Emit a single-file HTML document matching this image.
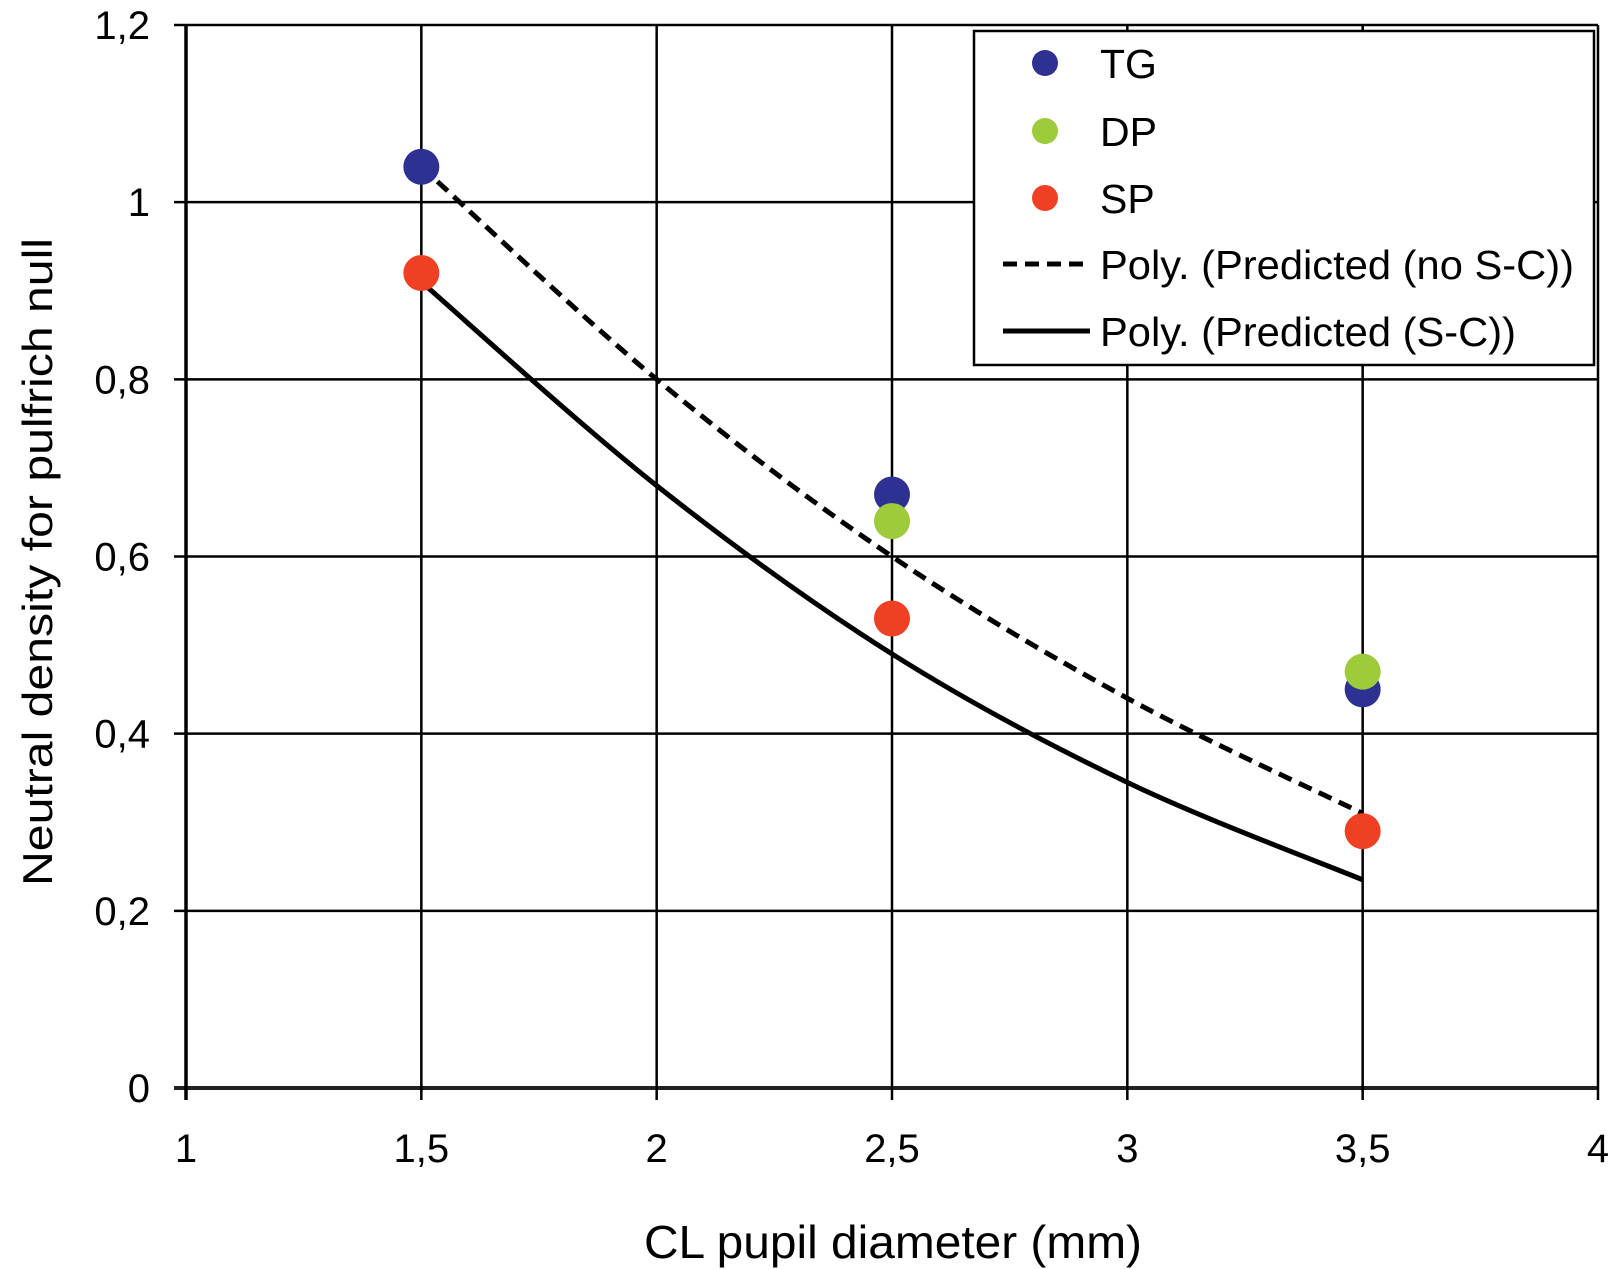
<!DOCTYPE html>
<html><head><meta charset="utf-8"><style>
body{margin:0;background:#fff;}
svg{display:block;font-family:"Liberation Sans",Arial,sans-serif;}
</style></head><body>
<svg id="chart" width="1611" height="1269" viewBox="0 0 1611 1269" xmlns="http://www.w3.org/2000/svg">
<g id="grid"></g>
<g id="curves"></g>
<g id="points"></g>
<g id="ticks"></g>
<text x="893" y="1258" font-size="46" text-anchor="middle" fill="#000" textLength="498" lengthAdjust="spacingAndGlyphs">CL pupil diameter (mm)</text>
<text transform="translate(52,562) rotate(-90)" font-size="42" text-anchor="middle" fill="#000" textLength="648" lengthAdjust="spacingAndGlyphs">Neutral density for pulfrich null</text>
<g>
<rect x="974" y="31" width="620" height="334" fill="#fff" stroke="#000" stroke-width="2.5"/>
<circle cx="1045" cy="63" r="13" fill="#2e3192"/>
<text x="1100" y="78" font-size="41">TG</text>
<circle cx="1045" cy="131" r="13" fill="#9dcb3b"/>
<text x="1100" y="146" font-size="41">DP</text>
<circle cx="1045" cy="198" r="13" fill="#ef4023"/>
<text x="1100" y="213" font-size="41">SP</text>
<line x1="1003" y1="264" x2="1090" y2="264" stroke="#000" stroke-width="5" stroke-dasharray="14,8"/>
<text x="1100" y="279" font-size="41" textLength="474" lengthAdjust="spacingAndGlyphs">Poly. (Predicted (no S-C))</text>
<line x1="1003" y1="331" x2="1090" y2="331" stroke="#000" stroke-width="5"/>
<text x="1100" y="346" font-size="41" textLength="416" lengthAdjust="spacingAndGlyphs">Poly. (Predicted (S-C))</text>
</g>
</svg>
<script>
const xTicks=[1,1.5,2,2.5,3,3.5,4];
const xTickLabels=["1","1,5","2","2,5","3","3,5","4"];
const yTicks=[0,0.2,0.4,0.6,0.8,1,1.2];
const yTickLabels=["0","0,2","0,4","0,6","0,8","1","1,2"];
const tgX=[1.5,2.5,3.5];
const tgY=[1.04,0.67,0.45];
const dpX=[2.5,3.5];
const dpY=[0.64,0.47];
const spX=[1.5,2.5,3.5];
const spY=[0.92,0.53,0.29];
const curveX=[1.5,2,2.5,3,3.5];
const noScY=[1.04,0.80,0.60,0.44,0.31];
const scY=[0.91,0.68,0.49,0.345,0.235];

const NS="http://www.w3.org/2000/svg";
function sx(v){return 186+(v-1)*(1598-186)/3;}
function sy(v){return 1088-v*(1088-25)/1.2;}
function mk(tag,attrs,parent){const e=document.createElementNS(NS,tag);for(const k in attrs)e.setAttribute(k,attrs[k]);parent.appendChild(e);return e;}
const grid=document.getElementById('grid'),ticks=document.getElementById('ticks');
yTicks.forEach((v,i)=>{
  const l=mk('line',{x1:174,x2:1598,y1:sy(v),y2:sy(v),stroke:i==0?'#222':'#000','stroke-width':i==0?4:2.5},grid);
  
  
  const t=mk('text',{x:150,y:sy(v)+14,'font-size':40,'text-anchor':'end'},ticks);
  
  
  t.textContent=yTickLabels[i];
});
xTicks.forEach((v,i)=>{
  const l=mk('line',{x1:sx(v),x2:sx(v),y1:25,y2:1100,stroke:'#000','stroke-width':i==0?3.5:2.5},grid);
  
  
  const t=mk('text',{x:sx(v),y:1162,'font-size':40,'text-anchor':'middle'},ticks);
  
  
  t.textContent=xTickLabels[i];
});
function smoothPath(xs,ys){
  const p=xs.map((x,i)=>[sx(x),sy(ys[i])]);
  let d='M'+p[0][0]+','+p[0][1];
  for(let i=0;i<p.length-1;i++){
    const p0=p[i-1]||p[i],p1=p[i],p2=p[i+1],p3=p[i+2]||p2;
    const c1=[p1[0]+(p2[0]-p0[0])/6,p1[1]+(p2[1]-p0[1])/6];
    const c2=[p2[0]-(p3[0]-p1[0])/6,p2[1]-(p3[1]-p1[1])/6];
    d+=' C'+c1+' '+c2+' '+p2;
  }
  return d;
}
const curves=document.getElementById('curves');
const c1=mk('path',{d:smoothPath(curveX,noScY),fill:'none',stroke:'#000','stroke-width':5,'stroke-dasharray':'14,8'},curves);


const c2=mk('path',{d:smoothPath(curveX,scY),fill:'none',stroke:'#000','stroke-width':5},curves);


const pts=document.getElementById('points');
function drawPts(xs,ys,color,name){
  xs.forEach((x,i)=>{
    const c=mk('circle',{cx:sx(x),cy:sy(ys[i]),r:18,fill:color},pts);
    
    
  });
}
drawPts(tgX,tgY,'#2e3192','point-tg');
drawPts(dpX,dpY,'#9dcb3b','point-dp');
drawPts(spX,spY,'#ef4023','point-sp');
</script>
</body></html>
